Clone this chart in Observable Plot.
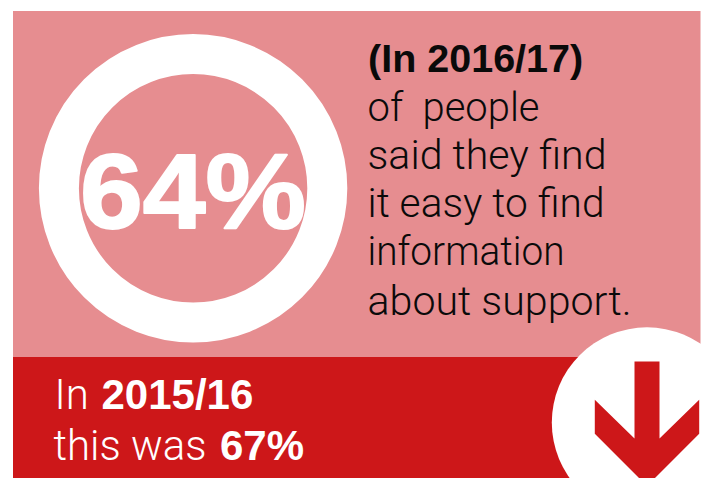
<!DOCTYPE html>
<html><head><meta charset="utf-8">
<script src="https://cdn.jsdelivr.net/npm/d3@7"></script>
<script src="https://cdn.jsdelivr.net/npm/@observablehq/plot@0.6"></script>
<style>html,body{margin:0;padding:0;background:#fff}svg{display:block}</style>
</head><body><div id="c"></div>
<script>
const panels=[{x1:13,x2:700.5,y1:11,y2:357,c:"#e68d90"},{x1:13,x2:700.5,y1:357,y2:478,c:"#cd1719"}];
const ring=[{x:192.6,y:187.8}];
const badge=[{x:646.5,y:422}];
const arrowX=[634,659,659,698.7,698.7,646.5,594.3,594.3,634];
const arrowY=[361,361,438,399.3,433.3,485.5,433.3,399.3,438];
const arrow=arrowX.map((x,i)=>({x,y:arrowY[i]}));
const bigValue=[{x:192.5,y:194,t:"64%"}];
const headline=[{x:367.5,y:59,t:"(In 2016/17)"}];
const bodyLines=["of  people","said they find","it easy to find","information","about support."];
const bodyY=[107,155,203,251,301];
const bodyWidths=[172,239,237,197,264];
const body=bodyLines.map((t,i)=>({x:367,y:bodyY[i],t}));
const footBold=[{x:101,y:395,t:"2015/16"},{x:219.5,y:446,t:"67%"}];
const footLight=[{x:54,y:395,t:"In"},{x:53,y:446,t:"this was"}];
const sans="'Liberation Sans', Arial, sans-serif";
const light="Roboto, 'Liberation Sans', sans-serif";
const plot=Plot.plot({width:707,height:478,margin:0,
 x:{domain:[0,707],range:[0,707],axis:null},
 y:{domain:[0,478],range:[0,478],axis:null},
 style:{background:"#fff",fontFamily:sans},
 marks:[
  Plot.rect(panels,{x1:"x1",x2:"x2",y1:"y1",y2:"y2",fill:"c"}),
  Plot.dot(ring,{x:"x",y:"y",r:134.2,stroke:"#fff",strokeWidth:40,fill:"none"}),
  Plot.text(bigValue,{x:"x",y:"y",text:"t",fontSize:106,fontWeight:"bold",fontFamily:sans,fill:"#fff",stroke:"#fff",strokeWidth:2,textAnchor:"middle",className:"big"}),
  Plot.text(headline,{x:"x",y:"y",text:"t",fontSize:39.5,fontWeight:"bold",fontFamily:sans,fill:"#0a0a0a",textAnchor:"start"}),
  Plot.text(body,{x:"x",y:"y",text:"t",fontSize:41,fontWeight:300,fontFamily:light,fill:"#0a0a0a",textAnchor:"start",className:"body"}),
  Plot.dot(badge,{x:"x",y:"y",r:95.2,fill:"#fff"}),
  Plot.line(arrow,{x:"x",y:"y",fill:"#cd1719",stroke:"none"}),
  Plot.text(footLight,{x:"x",y:"y",text:"t",fontSize:42,fontWeight:300,fontFamily:light,fill:"#fff",textAnchor:"start"}),
  Plot.text(footBold,{x:"x",y:"y",text:"t",fontSize:42,fontWeight:"bold",fontFamily:sans,fill:"#fff",textAnchor:"start"})
 ]});
d3.select(plot).selectAll(".big text").attr("textLength",226).attr("lengthAdjust","spacingAndGlyphs");
d3.select(plot).selectAll(".body text").attr("textLength",(d,i)=>bodyWidths[i]).attr("lengthAdjust","spacingAndGlyphs");
document.getElementById("c").appendChild(plot);
</script></body></html>
